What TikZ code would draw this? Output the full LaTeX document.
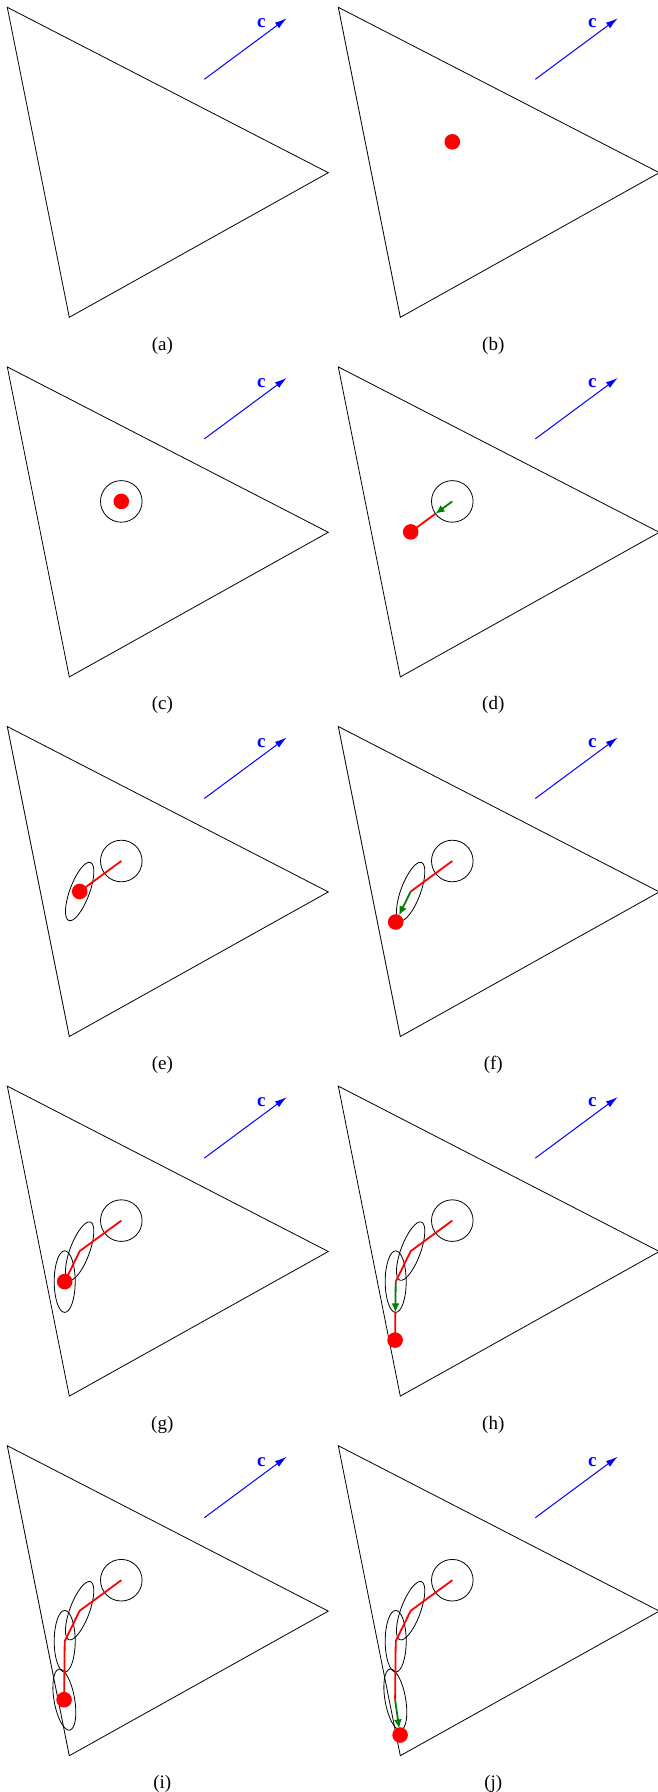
\documentclass[tikz,border=0pt]{standalone}
\usepackage{fontspec}
\setmainfont{Liberation Serif}
\usetikzlibrary{arrows.meta,calc}
\definecolor{stepGreen}{RGB}{0,128,0}

\begin{document}
\begin{tikzpicture}[x=1pt, y=-1pt,
    tri/.style={draw, line width=0.8pt, line join=miter},
    region/.style={draw, line width=0.8pt},
    cvec/.style={blue, line width=1pt, -{Latex[length=12pt, width=7pt]}},
    cname/.style={blue, font=\fontsize{19}{21}\selectfont\bfseries, inner sep=0pt},
    trail/.style={red, line width=1.8pt, line join=round},
    move/.style={stepGreen, line width=1.8pt, -{Latex[length=9pt, width=8pt]}},
    iterate/.style={circle, fill=red, inner sep=0pt, minimum size=15.6pt},
    sublabel/.style={font=\fontsize{19}{22}\selectfont, inner sep=0pt},
]
\useasboundingbox (0,0) rectangle (657,1792);

% Panels: polygon, cost vector, caption, iterates
\foreach \pan/\col/\row in {a/0/0, b/1/0, c/0/1, d/1/1, e/0/2, f/1/2, g/0/3, h/1/3, i/0/4, j/1/4}{
  \begin{scope}[shift={(7.3+331*\col, 7.3+359.6*\row)}]
    \coordinate (v1\pan) at (0,0);
    \coordinate (v2\pan) at (321,165.4);
    \coordinate (v3\pan) at (62,310);
    \coordinate (x0\pan) at (114,134.5);
    \coordinate (x1\pan) at (72.4,165);
    \coordinate (x2\pan) at (57.4,195.5);
    \coordinate (x3\pan) at (56.8,254);
    \coordinate (x4\pan) at (61.8,289.3);
    \coordinate (ct\pan) at (197,72);
    \coordinate (ch\pan) at (279.4,11);
    \draw[tri] (v1\pan) -- (v2\pan) -- (v3\pan) -- cycle;
    \draw[cvec] (ct\pan) -- (ch\pan);
    \node[cname] (cn\pan) at (254,16.2) {c};
    \node[sublabel] (lab\pan) at (155,338.5) {(\pan)};
  \end{scope}
}

% Balls and ellipsoids
\foreach \pan in {c,d,e,f,g,h,i,j}
  \draw[region] (x0\pan) circle [radius=20.8pt];
\foreach \pan in {e,f,g,h,i,j}
  \draw[region, rotate around={69.6:(x1\pan)}] (x1\pan) ellipse [x radius=31pt, y radius=9.8pt];
\foreach \pan in {g,h,i,j}
  \draw[region] (x2\pan) ellipse [x radius=10.5pt, y radius=30.8pt];
\foreach \pan in {i,j}
  \draw[region, rotate around={100:(x3\pan)}] (x3\pan) ellipse [x radius=31pt, y radius=10.3pt];

% (b), (c) start
\node[iterate] (db) at (x0b) {};
\node[iterate] (dc) at (x0c) {};

% (d)
\coordinate (bd) at ($(x0d)!20.8pt!(x1d)$);
\draw[trail] (bd) -- (x1d);
\draw[move] (x0d) -- (bd);
\node[iterate] (dd) at (x1d) {};

% (e)
\draw[trail] (x0e) -- (x1e);
\node[iterate] (de) at (x1e) {};

% (f)
\draw[trail] (x0f) -- (x1f);
\draw[move, shorten >=7.5pt] (x1f) -- (x2f);
\node[iterate] (df) at (x2f) {};

% (g)
\draw[trail] (x0g) -- (x1g) -- (x2g);
\node[iterate] (dg) at (x2g) {};

% (h)
\coordinate (bh) at ($(x2h)!30.8pt!(x3h)$);
\draw[trail] (x0h) -- (x1h) -- (x2h);
\draw[trail] (bh) -- (x3h);
\draw[move] (x2h) -- (bh);
\node[iterate] (dh) at (x3h) {};

% (i)
\draw[trail] (x0i) -- (x1i) -- (x2i) -- (x3i);
\node[iterate] (di) at (x3i) {};

% (j)
\coordinate (bj) at ($(x3j)!29pt!(x4j)$);
\draw[trail] (x0j) -- (x1j) -- (x2j) -- (x3j);
\draw[trail] (bj) -- (x4j);
\draw[move] (x3j) -- (bj);
\node[iterate] (dj) at (x4j) {};
\end{tikzpicture}
\end{document}
